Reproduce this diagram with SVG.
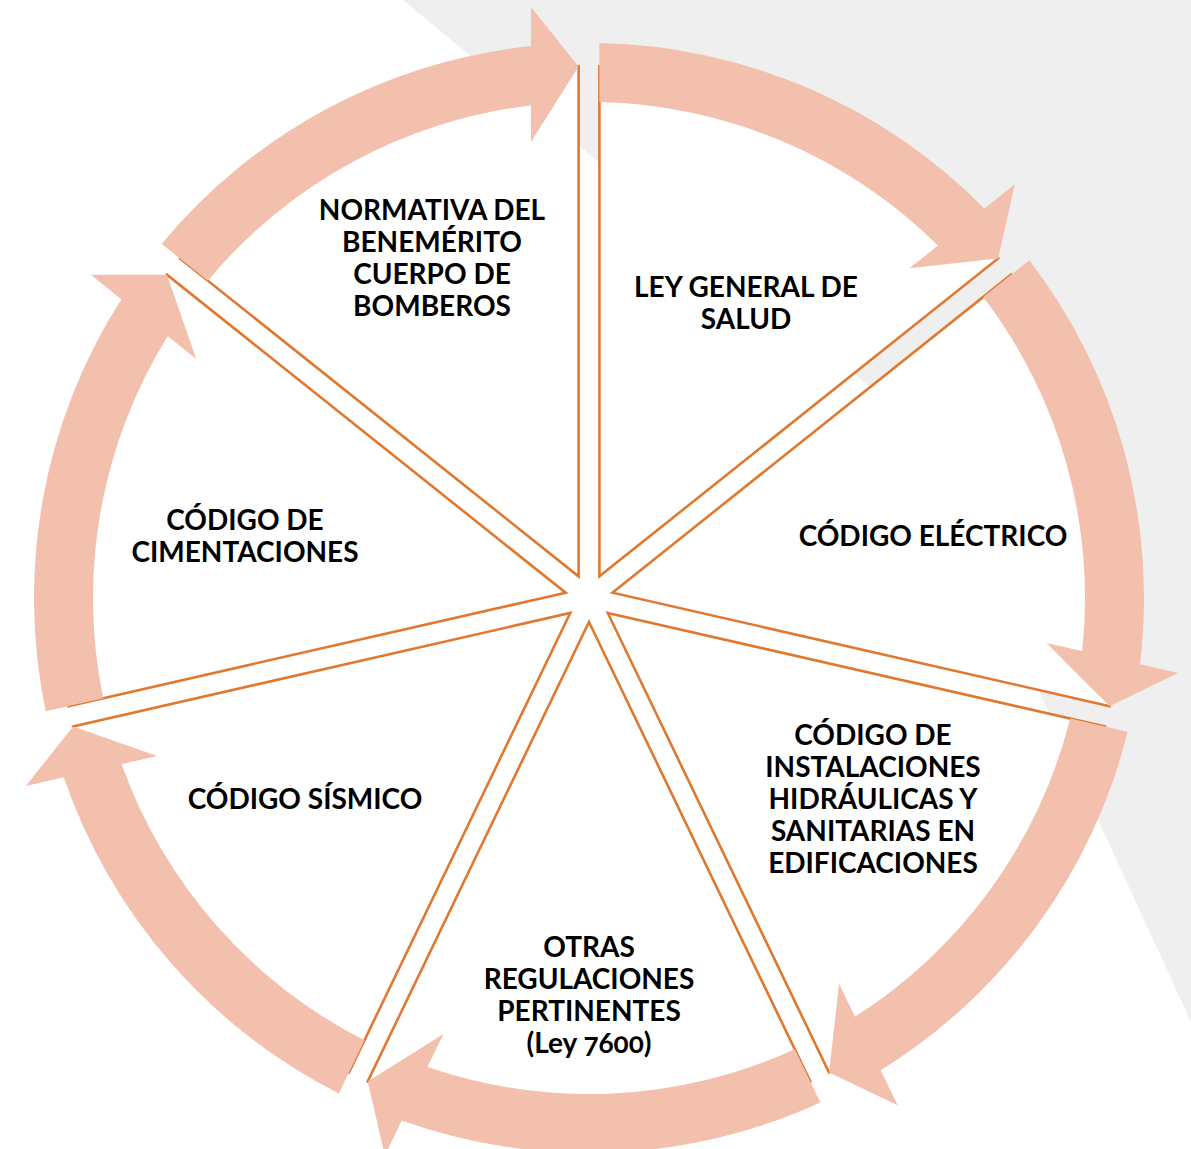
<svg xmlns="http://www.w3.org/2000/svg" width="1191" height="1149" viewBox="0 0 1191 1149">
<defs>
<style>
.wedge{fill:#FFFFFF;stroke:#E0782F;stroke-width:2.6;stroke-linejoin:miter}
.arrow{fill:#F4C0AE;stroke:none}
.lbl{font-family:Lato,"Open Sans","DejaVu Sans",sans-serif;font-weight:700;font-size:28px;fill:#000000;text-anchor:middle;font-variant-numeric:oldstyle-nums}
</style>
</defs>
<rect x="0" y="0" width="1191" height="1149" fill="#FFFFFF"/>
<polygon points="403,0 1191,0 1191,1022 917,426" fill="#EFEFEF"/>
<g id="node-ley-general-salud">
<path class="wedge" d="M599.41,576.38 L599.41,66.38 A510,510 0 0 1 998.14,258.40 Z"/>
<text class="lbl" x="746" y="297">LEY GENERAL DE</text>
<text class="lbl" x="746" y="329">SALUD</text>
</g>
<g id="node-codigo-electrico">
<path class="wedge" d="M612.40,592.66 L1011.13,274.68 A510,510 0 0 1 1109.61,706.15 Z"/>
<text class="lbl" x="933" y="546">CÓDIGO ELÉCTRICO</text>
</g>
<g id="node-instalaciones">
<path class="wedge" d="M607.76,612.96 L1104.97,726.45 A510,510 0 0 1 829.04,1072.45 Z"/>
<text class="lbl" x="873" y="745">CÓDIGO DE</text>
<text class="lbl" x="873" y="777">INSTALACIONES</text>
<text class="lbl" x="873" y="809">HIDRÁULICAS Y</text>
<text class="lbl" x="873" y="841">SANITARIAS EN</text>
<text class="lbl" x="873" y="873">EDIFICACIONES</text>
</g>
<g id="node-otras">
<path class="wedge" d="M589,622 L810.28,1081.49 A510,510 0 0 1 367.72,1081.49 Z"/>
<text class="lbl" x="589" y="957">OTRAS</text>
<text class="lbl" x="589" y="989">REGULACIONES</text>
<text class="lbl" x="589" y="1021">PERTINENTES</text>
<text class="lbl" x="589" y="1053">(Ley 7600)</text>
</g>
<g id="node-sismico">
<path class="wedge" d="M570.24,612.96 L348.96,1072.45 A510,510 0 0 1 73.03,726.45 Z"/>
<text class="lbl" x="305" y="809">CÓDIGO SÍSMICO</text>
</g>
<g id="node-cimentaciones">
<path class="wedge" d="M565.60,592.66 L68.39,706.15 A510,510 0 0 1 166.87,274.68 Z"/>
<text class="lbl" x="245" y="530">CÓDIGO DE</text>
<text class="lbl" x="245" y="562">CIMENTACIONES</text>
</g>
<g id="node-bomberos">
<path class="wedge" d="M578.59,576.38 L179.86,258.40 A510,510 0 0 1 578.59,66.38 Z"/>
<text class="lbl" x="432" y="220">NORMATIVA DEL</text>
<text class="lbl" x="432" y="252">BENEMÉRITO</text>
<text class="lbl" x="432" y="284">CUERPO DE</text>
<text class="lbl" x="432" y="316">BOMBEROS</text>
</g>
<g id="connectors">
<path class="arrow" d="M599.41,43.10 A555,555 0 0 1 984.38,208.51 L1014.91,184.17 L998.13,258.41 L909.35,268.34 L937.97,245.52 A496,496 0 0 0 599.41,102.11 Z"/>
<path class="arrow" d="M1029.33,260.17 A555,555 0 0 1 1140.03,664.27 L1178.09,672.96 L1109.59,706.14 L1046.48,642.92 L1082.16,651.06 A496,496 0 0 0 983.19,296.96 Z"/>
<path class="arrow" d="M1127.67,731.63 A555,555 0 0 1 880.75,1070.13 L897.69,1105.30 L829.03,1072.43 L839.11,983.67 L854.99,1016.65 A496,496 0 0 0 1070.14,718.50 Z"/>
<path class="arrow" d="M820.38,1102.47 A555,555 0 0 1 401.77,1120.47 L384.83,1155.64 L367.73,1081.47 L443.41,1034.01 L427.53,1066.99 A496,496 0 0 0 794.78,1049.30 Z"/>
<path class="arrow" d="M338.86,1093.43 A555,555 0 0 1 63.79,777.37 L25.73,786.06 L73.05,726.44 L157.34,756.02 L121.66,764.16 A496,496 0 0 0 364.46,1040.26 Z"/>
<path class="arrow" d="M45.69,711.33 A555,555 0 0 1 121.30,299.21 L90.77,274.87 L166.89,274.69 L196.33,359.04 L167.71,336.22 A496,496 0 0 0 103.22,698.20 Z"/>
<path class="arrow" d="M161.65,243.89 A555,555 0 0 1 531,46.04 L531,7 L578.59,66.40 L531,142 L531,105.40 A496,496 0 0 0 207.79,280.68 Z"/>
</g>
</svg>
